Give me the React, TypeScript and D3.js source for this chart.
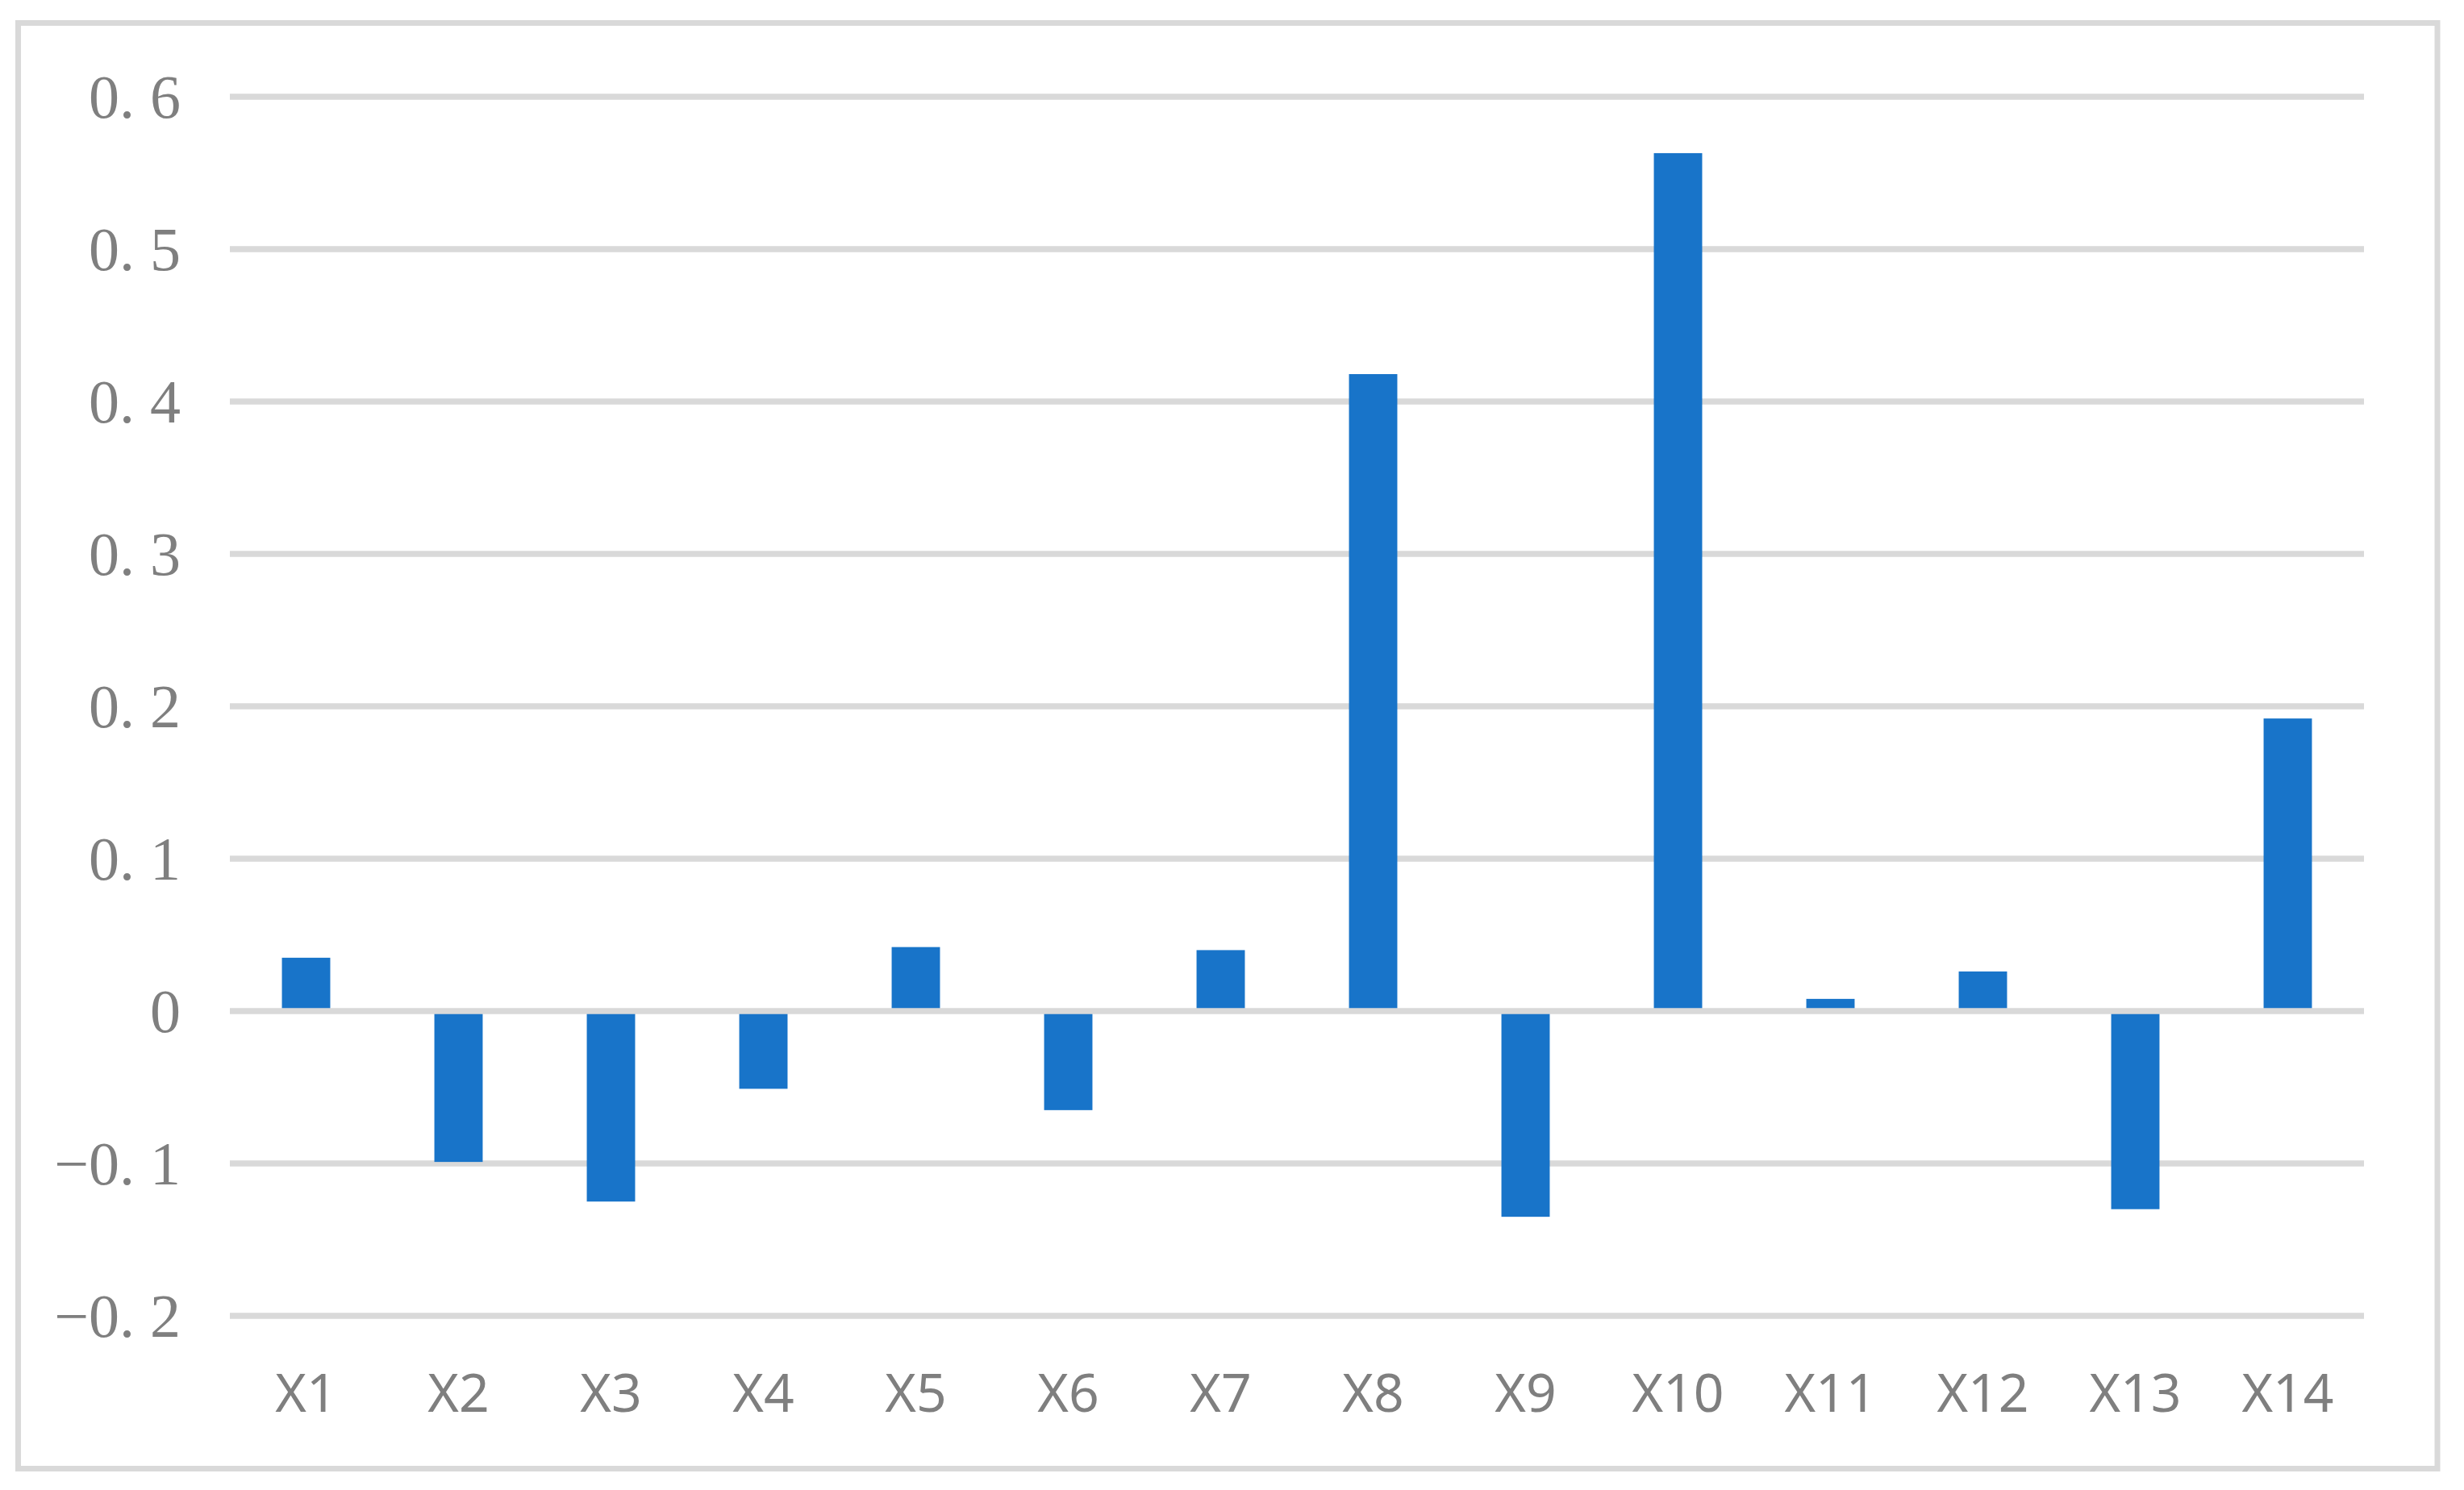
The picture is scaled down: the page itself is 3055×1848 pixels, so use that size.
import React, { useEffect, useRef } from "react";
import * as d3 from "d3";

const categories = ["X1", "X2", "X3", "X4", "X5", "X6", "X7", "X8", "X9", "X10", "X11", "X12", "X13", "X14"];
const values = [0.035, -0.099, -0.125, -0.051, 0.042, -0.065, 0.04, 0.418, -0.135, 0.563, 0.008, 0.026, -0.13, 0.192];
const yTicks = [-0.2, -0.1, 0, 0.1, 0.2, 0.3, 0.4, 0.5, 0.6];

const W = 3055;
const H = 1848;

const fmt = (v: number) => {
  if (Math.abs(v) < 1e-9) return "0";
  const s = Math.abs(v).toFixed(1).replace(".", ". ");
  return (v < 0 ? "\u2212" : "") + s;
};

export default function App() {
  const ref = useRef<SVGSVGElement | null>(null);

  useEffect(() => {
    const svg = d3.select(ref.current);
    svg.selectAll("*").remove();

    const x = d3.scaleBand<string>().domain(categories).range([285, 2931]).paddingInner(0.683).paddingOuter(0.3415);
    const y = d3.scaleLinear().domain([-0.2, 0.6]).range([1632, 120]);

    // outer frame
    svg.append("rect")
      .attr("x", 22.5).attr("y", 28.5)
      .attr("width", 3022 - 22.5).attr("height", 1821.5 - 28.5)
      .attr("fill", "#fff").attr("stroke", "#D9D9D9").attr("stroke-width", 7);

    // grid
    svg.append("g").selectAll("line").data(yTicks.filter(t => t !== 0)).join("line")
      .attr("x1", 285).attr("x2", 2931)
      .attr("y1", d => y(d)).attr("y2", d => y(d))
      .attr("stroke", "#D9D9D9").attr("stroke-width", 7.5);

    // bars
    svg.append("g").selectAll("rect").data(values).join("rect")
      .attr("x", (d, i) => x(categories[i])!)
      .attr("width", x.bandwidth())
      .attr("y", d => y(Math.max(0, d)))
      .attr("height", d => Math.abs(y(d) - y(0)))
      .attr("fill", "#1874C9");

    // zero axis line on top
    svg.append("line")
      .attr("x1", 285).attr("x2", 2931)
      .attr("y1", y(0)).attr("y2", y(0))
      .attr("stroke", "#D9D9D9").attr("stroke-width", 7.5);

    // y labels
    svg.append("g").selectAll("text").data(yTicks).join("text")
      .attr("x", 224).attr("y", d => y(d) + 26)
      .attr("text-anchor", "end")
      .attr("font-family", "'Liberation Serif', serif")
      .attr("font-size", 76)
      .attr("fill", "#7F7F7F")
      .text(d => fmt(d));

    // x labels
    svg.append("g").selectAll("text").data(categories).join("text")
      .attr("x", d => x(d)! + x.bandwidth() / 2)
      .attr("y", 1751)
      .attr("text-anchor", "middle")
      .attr("font-family", "'Noto Sans', sans-serif")
      .attr("font-size", 66)
      .attr("fill", "#7F7F7F")
      .text(d => d);
  }, []);

  return (
    <svg ref={ref} width={W} height={H} style={{ position: "absolute", left: 0, top: 0, background: "#fff" }} />
  );
}
